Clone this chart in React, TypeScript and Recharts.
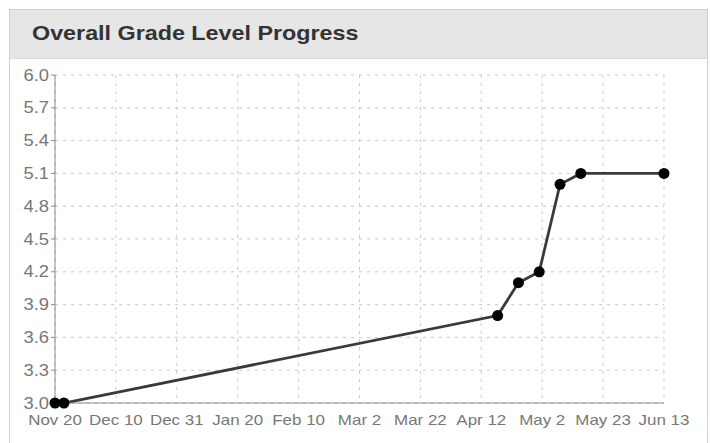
import React from "react";
import { LineChart, Line, XAxis, YAxis, CartesianGrid } from "recharts";

const assessmentDates: string[] = [
  "2012-11-20", "2012-11-23", "2013-04-18", "2013-04-25",
  "2013-05-02", "2013-05-09", "2013-05-16", "2013-06-13"
];
const gradeLevels: number[] = [3.0, 3.0, 3.8, 4.1, 4.2, 5.0, 5.1, 5.1];

const xTickLabels: string[] = [
  "Nov 20", "Dec 10", "Dec 31", "Jan 20", "Feb 10", "Mar 2",
  "Mar 22", "Apr 12", "May 2", "May 23", "Jun 13"
];
const yTicks: number[] = [3.0, 3.3, 3.6, 3.9, 4.2, 4.5, 4.8, 5.1, 5.4, 5.7, 6.0];

const toTime = (d: string) => new Date(d + "T00:00:00Z").getTime();

const data = assessmentDates.map((d, i) => ({ t: toTime(d), grade: gradeLevels[i] }));

const start = toTime("2012-11-20");
const end = toTime("2013-06-13");
const xTicks = xTickLabels.map((_, i) => start + ((end - start) * i) / (xTickLabels.length - 1));

const FONT = "'Liberation Sans', Arial, Helvetica, sans-serif";
const TICK_COLOR = "#777";

// the reference text is a little wide, so stretch it horizontally
const XTick = (props: any) => {
  const { x, y, payload, index } = props;
  return (
    <text
      transform={`translate(${x},${y + 14}) scale(1.13,1)`}
      textAnchor="middle"
      fill={TICK_COLOR}
      fontSize={15}
      fontFamily={FONT}
    >
      {xTickLabels[index] ?? String(payload.value)}
    </text>
  );
};

const YTick = (props: any) => {
  const { x, y, payload } = props;
  return (
    <text
      transform={`translate(${x},${y + 5.5}) scale(1.15,1)`}
      textAnchor="end"
      fill={TICK_COLOR}
      fontSize={16}
      fontFamily={FONT}
    >
      {Number(payload.value).toFixed(1)}
    </text>
  );
};

const App: React.FC = () => (
  <div style={{ position: "absolute", left: 0, top: 0, width: 710, height: 443, background: "#fff", overflow: "hidden", fontFamily: FONT }}>
    <div style={{ position: "absolute", left: 9, top: 9, width: 697, height: 460, border: "1px solid #cfcfcf", background: "#fff" }}>
      <div style={{ height: 48, background: "#e6e6e6", borderBottom: "1px solid #dadada" }}>
        <div
          style={{
            position: "absolute", left: 22, top: 11, fontSize: 21, fontWeight: "bold", color: "#333",
            transform: "scaleX(1.11)", transformOrigin: "left center", whiteSpace: "nowrap"
          }}
        >
          Overall Grade Level Progress
        </div>
      </div>
    </div>
    <div style={{ position: "absolute", left: 0, top: 60 }}>
      <LineChart width={700} height={383} data={data} margin={{ top: 15, right: 36, bottom: 10, left: 10 }}>
        <CartesianGrid stroke="#c8c8c8" strokeDasharray="3 5" />
        <XAxis
          dataKey="t"
          type="number"
          domain={[start, end]}
          ticks={xTicks}
          interval={0}
          tickLine={false}
          axisLine={{ stroke: "#8a8a8a", strokeWidth: 1 }}
          tick={<XTick />}
          height={30}
        />
        <YAxis
          type="number"
          domain={[3, 6]}
          ticks={yTicks}
          interval={0}
          tickSize={4}
          tickMargin={2}
          tickLine={{ stroke: "#8a8a8a" }}
          axisLine={{ stroke: "#8a8a8a", strokeWidth: 1 }}
          tick={<YTick />}
          width={45}
        />
        <Line
          type="linear"
          dataKey="grade"
          stroke="#3a3a3a"
          strokeWidth={2.8}
          dot={{ r: 5.5, fill: "#000", stroke: "#000", strokeWidth: 0 }}
          activeDot={false}
          isAnimationActive={false}
        />
      </LineChart>
    </div>
  </div>
);

export default App;
